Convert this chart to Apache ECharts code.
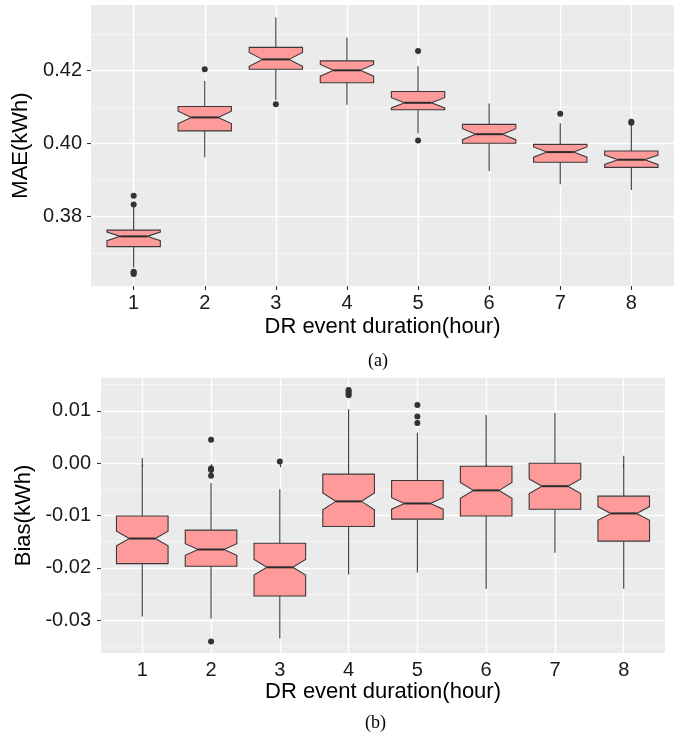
<!DOCTYPE html>
<html>
<head>
<meta charset="utf-8">
<script src="https://cdn.jsdelivr.net/npm/echarts@6/dist/echarts.min.js"></script>
<style>
  html, body { margin: 0; padding: 0; background: #ffffff; }
  #chart { width: 676px; height: 740px; }
</style>
</head>
<body>
<div id="chart"></div>
<script>
// DR event duration categories (hours)
const durations = [1, 2, 3, 4, 5, 6, 7, 8];

// (a) MAE (kWh) box statistics per duration
const maeLow   = [0.3660, 0.3962, 0.4119, 0.4106, 0.4027, 0.3924, 0.3888, 0.3872];
const maeQ1    = [0.3717, 0.4034, 0.4203, 0.4166, 0.4092, 0.4000, 0.3948, 0.3934];
const maeMed   = [0.3745, 0.4071, 0.4230, 0.4200, 0.4111, 0.4025, 0.3976, 0.3955];
const maeQ3    = [0.3762, 0.4101, 0.4263, 0.4226, 0.4142, 0.4052, 0.3997, 0.3979];
const maeHigh  = [0.3826, 0.4171, 0.4345, 0.4290, 0.4211, 0.4109, 0.4055, 0.4050];
const maeNotch = [0.0012, 0.0017, 0.0019, 0.0016, 0.0014, 0.0015, 0.0014, 0.0013];
const maeOutliers = [
  [1, 0.3856], [1, 0.3832], [1, 0.3648], [1, 0.3645], [1, 0.3642],
  [2, 0.4203], [3, 0.4107], [5, 0.4253], [5, 0.4008],
  [7, 0.4081], [8, 0.4059], [8, 0.4056]
];
const maeTicks = [0.38, 0.40, 0.42];
const maeMinor = [0.37, 0.39, 0.41, 0.43];

// (b) Bias (kWh) box statistics per duration
const biasLow   = [-0.0293, -0.0297, -0.0335, -0.0213, -0.0209, -0.0240, -0.0171, -0.0240];
const biasQ1    = [-0.0192, -0.0197, -0.0254, -0.0121, -0.0107, -0.0101, -0.0088, -0.0149];
const biasMed   = [-0.0144, -0.0165, -0.0199, -0.0073, -0.0077, -0.0052, -0.0044, -0.0096];
const biasQ3    = [-0.0101, -0.0128, -0.0153, -0.0021, -0.0033, -0.0006, 0.0000, -0.0063];
const biasHigh  = [0.0010, -0.0038, -0.0050, 0.0103, 0.0058, 0.0092, 0.0096, 0.0014];
const biasNotch = [0.0014, 0.0011, 0.0015, 0.0016, 0.0011, 0.0015, 0.0014, 0.0013];
const biasOutliers = [
  [2, 0.0045], [2, -0.0010], [2, -0.0013], [2, -0.0024], [2, -0.0341],
  [3, 0.0003],
  [4, 0.0140], [4, 0.0137], [4, 0.0133], [4, 0.0130],
  [5, 0.0111], [5, 0.0089], [5, 0.0077]
];
const biasTicks = [-0.03, -0.02, -0.01, 0.00, 0.01];
const biasMinor = [-0.035, -0.025, -0.015, -0.005, 0.005, 0.015];

const FILL = '#FF9A9A';
const EDGE = '#3a3a3a';
const PANEL = '#EBEBEB';
const SANS = '"Liberation Sans", Arial, Helvetica, sans-serif';
const SERIF = '"Liberation Serif", "Times New Roman", serif';

function boxRows(low, q1, med, q3, high, notch) {
  return durations.map((d, i) => [d, low[i], q1[i], med[i], q3[i], high[i], notch[i]]);
}

// Notched box with whiskers, drawn through the axis scales
function renderBox(params, api) {
  const x = api.value(0);
  const lo = api.value(1), q1 = api.value(2), md = api.value(3);
  const q3 = api.value(4), hi = api.value(5), nh = api.value(6);
  const half = 0.375;
  const L = api.coord([x - half, md])[0];
  const R = api.coord([x + half, md])[0];
  const cx = api.coord([x, md])[0];
  const ind = (R - L) * 0.25;
  const y = v => api.coord([x, v])[1];
  const yq3 = y(q3), yq1 = y(q1), ymd = y(md);
  const ynu = y(Math.min(md + nh, q3));
  const ynl = y(Math.max(md - nh, q1));
  const lineStyle = { stroke: EDGE, lineWidth: 1.1 };
  return {
    type: 'group',
    children: [
      { type: 'line', shape: { x1: cx, y1: yq3, x2: cx, y2: y(hi) }, style: lineStyle },
      { type: 'line', shape: { x1: cx, y1: yq1, x2: cx, y2: y(lo) }, style: lineStyle },
      {
        type: 'polygon',
        shape: {
          points: [
            [L, yq3], [R, yq3], [R, ynu], [R - ind, ymd], [R, ynl], [R, yq1],
            [L, yq1], [L, ynl], [L + ind, ymd], [L, ynu]
          ]
        },
        style: { fill: FILL, stroke: EDGE, lineWidth: 1.1 }
      },
      { type: 'line', shape: { x1: L + ind, y1: ymd, x2: R - ind, y2: ymd }, style: { stroke: '#2a2a2a', lineWidth: 2 } }
    ]
  };
}

function xAxisFor(gridIndex, nameGap) {
  return {
    type: 'value', gridIndex, min: 0.4, max: 8.6,
    name: 'DR event duration(hour)', nameLocation: 'middle', nameGap,
    nameTextStyle: { fontFamily: SANS, fontSize: 22, color: '#000' },
    axisLine: { show: false },
    axisTick: { show: true, length: 4, customValues: durations, lineStyle: { color: '#333', width: 1.1 } },
    axisLabel: { customValues: durations, margin: 7, fontFamily: SANS, fontSize: 20, color: '#1a1a1a',
                 formatter: v => String(Math.round(v)) },
    splitLine: { show: true, lineStyle: { color: '#ffffff', width: 1.4 } }
  };
}

function yAxisFor(gridIndex, min, max, ticks, title, nameGap, margin) {
  return {
    type: 'value', gridIndex, min, max,
    name: title, nameLocation: 'middle', nameGap, nameRotate: 90,
    nameTextStyle: { fontFamily: SANS, fontSize: 22, color: '#000' },
    axisLine: { show: false },
    axisTick: { show: true, length: 4, customValues: ticks, lineStyle: { color: '#333', width: 1.1 } },
    axisLabel: { customValues: ticks, margin, fontFamily: SANS, fontSize: 20, color: '#1a1a1a',
                 formatter: v => (Math.abs(v) < 1e-9 ? 0 : v).toFixed(2) },
    splitLine: { show: true, lineStyle: { color: '#ffffff', width: 1.4 } },
    z: 2
  };
}

function minorAxisFor(gridIndex, min, max, values) {
  return {
    type: 'value', gridIndex, min, max,
    axisLine: { show: false },
    axisTick: { show: false, customValues: values },
    axisLabel: { show: false, customValues: values },
    splitLine: { show: true, lineStyle: { color: '#F7F7F7', width: 0.8 } },
    z: 1
  };
}

const chart = echarts.init(document.getElementById('chart'), null, { renderer: 'canvas' });

chart.setOption({
  animation: false,
  backgroundColor: '#ffffff',
  grid: [
    { left: 91, top: 5, width: 583, height: 281, show: true, backgroundColor: PANEL, borderWidth: 0 },
    { left: 101, top: 378, width: 564, height: 275, show: true, backgroundColor: PANEL, borderWidth: 0 }
  ],
  xAxis: [xAxisFor(0, 30), xAxisFor(1, 27)],
  yAxis: [
    yAxisFor(0, 0.3609, 0.4379, maeTicks, 'MAE(kWh)', 55, 9),
    minorAxisFor(0, 0.3609, 0.4379, maeMinor),
    yAxisFor(1, -0.03628, 0.01628, biasTicks, 'Bias(kWh)', 62, 10),
    minorAxisFor(1, -0.03628, 0.01628, biasMinor)
  ],
  graphic: [
    { type: 'text', left: 368, top: 352, style: { text: '(a)', font: '18px ' + SERIF, fill: '#000' } },
    { type: 'text', left: 365, top: 714, style: { text: '(b)', font: '18px ' + SERIF, fill: '#000' } }
  ],
  series: [
    {
      type: 'custom', xAxisIndex: 0, yAxisIndex: 0,
      renderItem: renderBox,
      encode: { x: 0, y: [1, 2, 3, 4, 5] },
      data: boxRows(maeLow, maeQ1, maeMed, maeQ3, maeHigh, maeNotch), z: 3
    },
    {
      type: 'scatter', xAxisIndex: 0, yAxisIndex: 0, symbolSize: 6,
      itemStyle: { color: '#333333', opacity: 1 }, data: maeOutliers, z: 4
    },
    {
      type: 'custom', xAxisIndex: 1, yAxisIndex: 2,
      renderItem: renderBox,
      encode: { x: 0, y: [1, 2, 3, 4, 5] },
      data: boxRows(biasLow, biasQ1, biasMed, biasQ3, biasHigh, biasNotch), z: 3
    },
    {
      type: 'scatter', xAxisIndex: 1, yAxisIndex: 2, symbolSize: 6,
      itemStyle: { color: '#333333', opacity: 1 }, data: biasOutliers, z: 4
    }
  ]
});
</script>
</body>
</html>
